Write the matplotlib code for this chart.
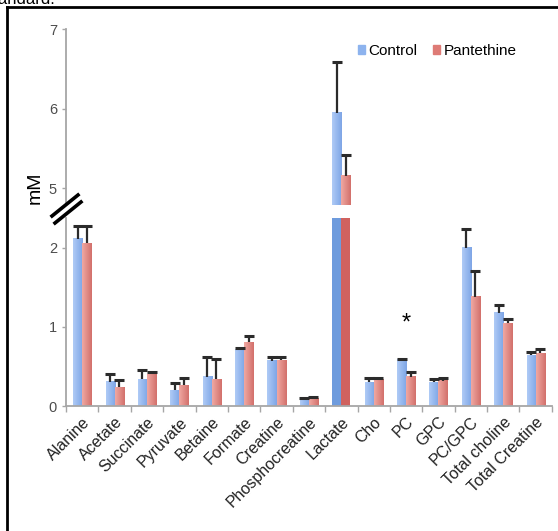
import numpy as np
import matplotlib.pyplot as plt
from matplotlib.lines import Line2D
from matplotlib.patches import Patch
from matplotlib.colors import LinearSegmentedColormap

plt.rcParams['font.family'] = ['Liberation Sans', 'DejaVu Sans']

metabolites = ['Alanine', 'Acetate', 'Succinate', 'Pyruvate', 'Betaine', 'Formate',
               'Creatine', 'Phosphocreatine', 'Lactate', 'Cho', 'PC', 'GPC',
               'PC/GPC', 'Total choline', 'Total Creatine']
control = [2.12, 0.31, 0.34, 0.20, 0.37, 0.72, 0.57, 0.085, 5.95, 0.30, 0.59, 0.30, 2.00, 1.18, 0.64]
control_err = [0.16, 0.09, 0.115, 0.095, 0.25, 0.01, 0.045, 0.012, 0.64, 0.05, 0.005, 0.045, 0.24, 0.10, 0.04]
pantethine = [2.06, 0.24, 0.40, 0.26, 0.34, 0.81, 0.58, 0.09, 5.16, 0.34, 0.37, 0.32, 1.38, 1.05, 0.67]
pantethine_err = [0.22, 0.09, 0.03, 0.10, 0.25, 0.08, 0.04, 0.02, 0.26, 0.02, 0.065, 0.04, 0.33, 0.05, 0.05]
significant = ['PC']

fig = plt.figure(figsize=(5.58, 5.31), dpi=100)
ax_hi = fig.add_axes([0.1183, 0.6139, 0.8707, 0.3309])
ax_lo = fig.add_axes([0.1183, 0.2354, 0.8707, 0.3541])

x = np.arange(len(metabolites))
w = 0.28
grey = '#A6A6A6'

blue_cm = LinearSegmentedColormap.from_list('b', ['#AFCBF6', '#7EA5E6'])
red_cm = LinearSegmentedColormap.from_list('r', ['#F0A8A2', '#D2706B'])
grad = np.linspace(0, 1, 50).reshape(1, -1)


def draw(ax, ylim, dark_lactate=False):
    lo, hi = ylim
    for vals, errs, off, cm, dark in [(control, control_err, -w / 2, blue_cm, '#6E9BDD'),
                                      (pantethine, pantethine_err, w / 2, red_cm, '#D0625F')]:
        vals = np.array(vals)
        errs = np.array(errs)
        bars = ax.bar(x + off, vals, w, color='none', zorder=2)
        for i, b in enumerate(bars):
            if dark_lactate and metabolites[i] == 'Lactate':
                b.set_facecolor(dark)
                continue
            top = min(b.get_height(), hi)
            if top <= lo:
                continue
            ax.imshow(grad, cmap=cm, aspect='auto', zorder=2, interpolation='bilinear',
                      extent=[b.get_x(), b.get_x() + b.get_width(), lo, top])
        ax.errorbar(x + off, vals, yerr=[np.zeros(len(vals)), errs], fmt='none',
                    ecolor='#2b2b2b', elinewidth=1.6, capsize=0, zorder=3)
        ax.plot(x + off, vals + errs, ls='none', marker='_', ms=7, mew=2.2,
                color='#2b2b2b', zorder=3)
    ax.set_xlim(-0.5, len(metabolites) - 0.5)
    ax.set_ylim(lo, hi)
    for s in ['top', 'right']:
        ax.spines[s].set_visible(False)
    ax.spines['left'].set_color(grey)
    ax.spines['left'].set_linewidth(1.3)
    ax.tick_params(axis='y', colors=grey, labelcolor='#4d4d4d', labelsize=10.5, length=3, width=1)


draw(ax_hi, (4.79, 7))
draw(ax_lo, (0, 2.38), dark_lactate=True)

ax_hi.set_yticks([5, 6, 7])
ax_hi.spines['bottom'].set_visible(False)
ax_hi.set_xticks([])

ax_lo.set_yticks([0, 1, 2])
ax_lo.spines['bottom'].set_color(grey)
ax_lo.spines['bottom'].set_linewidth(1.3)
ax_lo.set_xticks(np.arange(-0.5, len(metabolites)), [''] * (len(metabolites) + 1))
ax_lo.set_xticks(x, metabolites, minor=True)
ax_lo.tick_params(axis='x', which='major', colors=grey, length=4, width=1)
ax_lo.tick_params(axis='x', which='minor', length=0, labelsize=11.5, pad=6, labelcolor='#222222')
for lbl in ax_lo.get_xticklabels(minor=True):
    lbl.set_rotation(45)
    lbl.set_ha('right')
    lbl.set_rotation_mode('anchor')

for name in significant:
    i = metabolites.index(name)
    ax_lo.text(x[i], 0.9, '*', ha='center', va='bottom', fontsize=17)

fig.text(35 / 558, 1 - 188 / 531, 'mM', rotation=90, ha='center', va='center', fontsize=14)

# break marks on the y axis
for dx, dy in [(0, 0), (3, 7)]:
    fig.add_artist(Line2D([(52 + dx) / 558, (78 + dx) / 558],
                          [1 - (216 + dy) / 531, 1 - (195 + dy) / 531],
                          color='black', lw=2.6, transform=fig.transFigure))

fig.legend(handles=[Patch(color='#8DB3EE', label='Control'),
                    Patch(color='#DE7B76', label='Pantethine')],
           loc='center left', bbox_to_anchor=(344 / 558, 1 - 51 / 531), ncol=2,
           frameon=False, handlelength=0.45, handleheight=0.45, handletextpad=0.25,
           columnspacing=1.0, fontsize=11)

# frame remnants from the source page
fig.add_artist(Line2D([7 / 558, 7 / 558], [0, 1 - 7 / 531], color='black', lw=2, transform=fig.transFigure))
fig.add_artist(Line2D([7 / 558, 1], [1 - 7 / 531, 1 - 7 / 531], color='black', lw=2, transform=fig.transFigure))
fig.text(55 / 558, 1 - 4 / 531, 'standard.', ha='right', va='baseline', fontsize=12)

fig.savefig('out.png', dpi=100)
